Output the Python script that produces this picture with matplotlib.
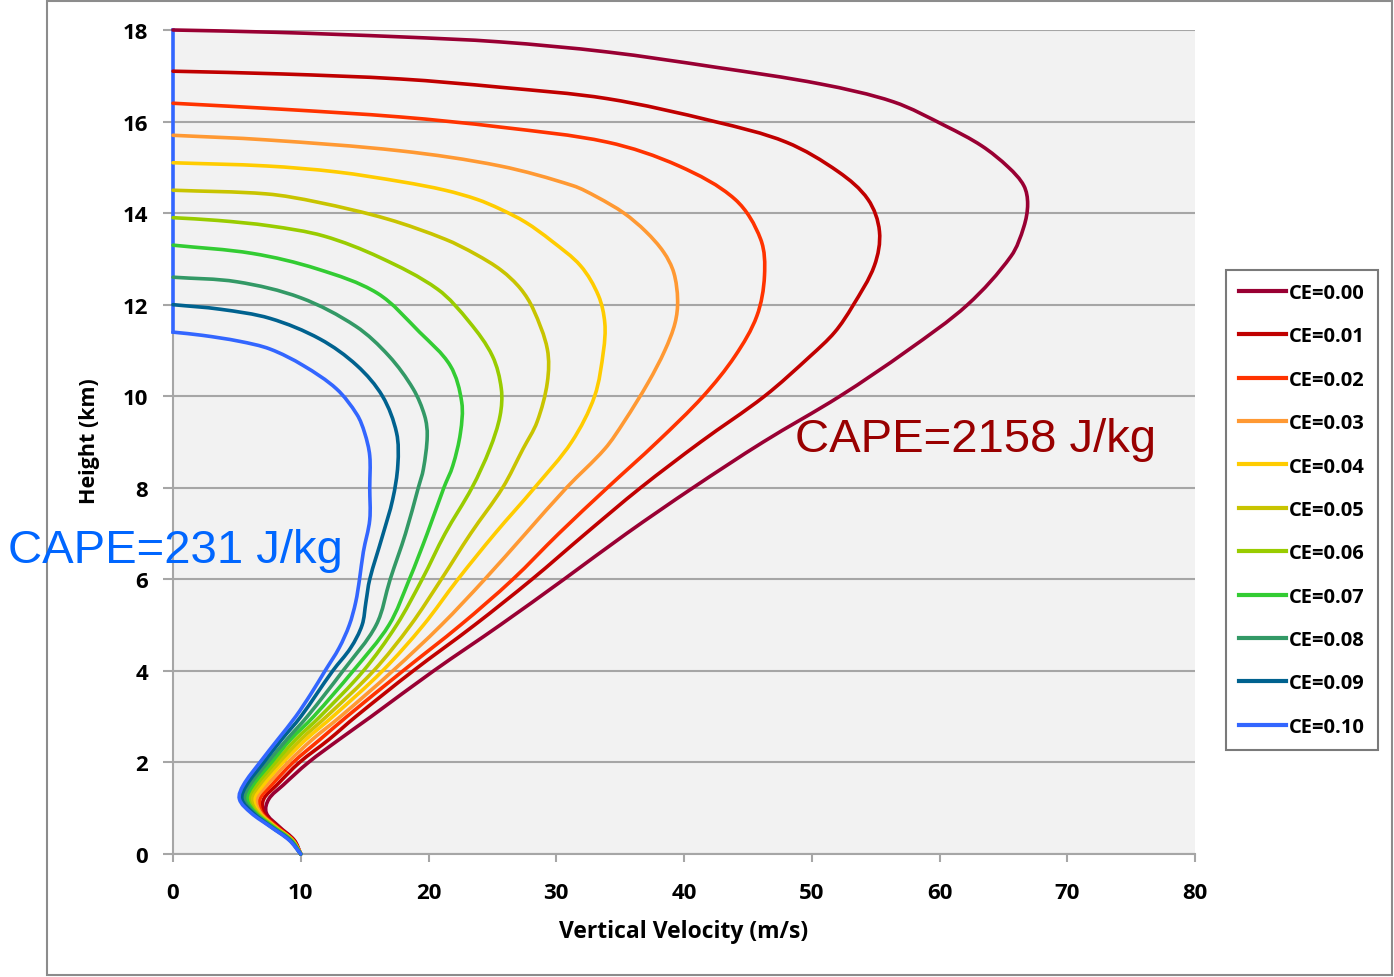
import matplotlib
matplotlib.use("Agg")
import matplotlib.pyplot as plt
import numpy as np
from matplotlib.patches import Rectangle, PathPatch
from matplotlib.path import Path

plt.rcParams["font.family"] = ["Open Sans", "DejaVu Sans"]

# Updraft vertical velocity profiles w(z) for entrainment rates CE = 0.00 ... 0.10
ce_values = [0.00, 0.01, 0.02, 0.03, 0.04, 0.05, 0.06, 0.07, 0.08, 0.09, 0.10]
ce_colors = ["#990033", "#c00000", "#ff3300", "#ff9933", "#ffcc00", "#c8c400",
             "#99cc00", "#33cc33", "#339966", "#00628f", "#3366ff"]

# height (km) / velocity (m/s) pairs for each profile
z_ce000 = [0, 0.3, 0.6, 0.9, 1.2, 1.5, 2, 2.5, 3, 4, 5, 6, 7, 8, 9, 10, 11, 12, 13.06,
           13.7, 14.2, 14.6, 15.0, 15.47, 15.9, 16.43, 16.82, 17.19, 17.52, 17.74, 17.85, 17.95, 18.0]
w_ce000 = [10.0, 9.5, 8.3, 7.3, 7.5, 8.6, 10.6, 13.0, 15.5, 20.4, 25.6, 30.6, 35.5, 40.7, 46.2, 52.2, 57.5,
           62.2, 65.6, 66.6, 66.9, 66.6, 65.4, 63.3, 60.5, 56.4, 50.7, 42.4, 34.0, 25.6, 17.8, 8.0, 0.0]

z_ce001 = [0, 0.3, 0.6, 0.9, 1.2, 1.5, 2, 2.5, 3, 4, 5, 6, 7, 8, 9, 10, 10.88, 11.4, 11.97, 12.85,
           13.6, 14.3, 14.9, 15.55, 16.0, 16.5, 16.75, 16.93, 17.04, 17.1]
w_ce001 = [10.0, 9.45, 8.2, 7.1, 7.1, 8.1, 9.9, 12.2, 14.3, 18.8, 23.6, 28.1, 32.3, 36.6, 41.3, 46.3, 49.9,
           51.8, 53.2, 54.9, 55.3, 54.4, 52.1, 48.0, 42.4, 34.0, 25.6, 17.8, 8.5, 0.0]

z_ce002 = [0, 0.3, 0.6, 0.9, 1.2, 1.5, 2, 2.5, 3, 4, 5, 6, 7, 8, 9, 10, 10.88, 11.75, 12.63,
           13.43, 14.3, 15.03, 15.55, 15.88, 16.1, 16.27, 16.4]
w_ce002 = [10.0, 9.4, 8.1, 6.95, 6.8, 7.7, 9.4, 11.5, 13.6, 18.0, 22.5, 26.6, 30.2, 34.0, 37.9, 41.5, 44.0,
           45.7, 46.3, 46.0, 44.0, 39.6, 34.0, 25.6, 17.8, 8.5, 0.0]

z_ce003 = [0, 0.3, 0.6, 0.9, 1.2, 1.5, 2, 2.5, 3, 4, 5, 6, 7, 8, 8.85, 9.44, 10.3, 11.0, 11.6,
           12.1, 12.7, 13.15, 13.6, 14.0, 14.35, 14.6, 15.03, 15.36, 15.6, 15.7]
w_ce003 = [10.0, 9.35, 8.0, 6.85, 6.55, 7.35, 9.0, 10.9, 13.1, 17.2, 21.0, 24.4, 27.6, 30.8, 33.8, 35.3,
           37.2, 38.5, 39.3, 39.5, 39.2, 38.4, 37.0, 35.3, 33.2, 31.3, 25.6, 17.8, 7.3, 0.0]

z_ce004 = [0, 0.3, 0.6, 0.9, 1.2, 1.5, 2, 2.5, 3, 4, 5, 6, 7, 8, 9, 10, 11, 11.6, 12.2, 12.85,
           13.4, 13.8, 14.09, 14.3, 14.5, 14.68, 14.9, 15.03, 15.1]
w_ce004 = [10.0, 9.35, 7.95, 6.75, 6.35, 7.05, 8.6, 10.4, 12.5, 16.4, 19.6, 22.3, 25.2, 28.3, 31.2, 33.0,
           33.7, 33.8, 33.3, 31.9, 29.6, 27.6, 25.6, 23.8, 21.3, 18.0, 12.8, 7.3, 0.0]

z_ce005 = [0, 0.3, 0.6, 0.9, 1.2, 1.5, 2, 2.5, 3, 4, 5, 6, 7, 8, 8.85, 9.44, 10.3, 11.03, 11.9,
           12.35, 12.75, 13.1, 13.43, 13.87, 14.24, 14.42, 14.5]
w_ce005 = [10.0, 9.3, 7.9, 6.65, 6.15, 6.75, 8.3, 10.0, 12.0, 15.7, 18.6, 21.0, 23.3, 25.8, 27.4, 28.5,
           29.3, 29.3, 28.2, 27.2, 25.7, 23.7, 21.3, 16.8, 11.3, 7.3, 0.0]

z_ce006 = [0, 0.3, 0.6, 0.9, 1.2, 1.5, 2, 2.5, 3, 4, 5, 6, 7, 8, 8.85, 9.57, 10.16, 10.88, 11.62,
           12.34, 13.03, 13.5, 13.72, 13.84, 13.9]
w_ce006 = [10.0, 9.3, 7.85, 6.55, 5.95, 6.5, 8.0, 9.6, 11.5, 14.9, 17.5, 19.5, 21.3, 23.4, 24.8, 25.6,
           25.7, 25.0, 23.2, 20.7, 16.2, 11.8, 7.6, 3.5, 0.0]

z_ce007 = [0, 0.3, 0.6, 0.9, 1.2, 1.5, 2, 2.5, 3, 4, 5, 6, 7, 8, 8.48, 9.2, 9.87, 10.67, 11.4,
           12.25, 12.78, 13.12, 13.3]
w_ce007 = [10.0, 9.25, 7.8, 6.45, 5.8, 6.25, 7.7, 9.2, 11.0, 14.1, 16.9, 18.5, 19.9, 21.2, 21.9, 22.5,
           22.6, 21.7, 19.3, 16.0, 11.3, 6.2, 0.0]

z_ce008 = [0, 0.3, 0.6, 0.9, 1.2, 1.5, 2, 2.5, 3, 4, 5, 6, 7, 8, 8.41, 9.13, 9.57, 10.16, 10.88,
           11.53, 12.15, 12.5, 12.6]
w_ce008 = [10.0, 9.2, 7.7, 6.35, 5.6, 6.0, 7.4, 8.9, 10.5, 13.3, 15.9, 17.0, 18.2, 19.2, 19.6, 19.9,
           19.7, 18.8, 16.9, 14.3, 10.0, 5.0, 0.0]

z_ce009 = [0, 0.3, 0.6, 0.9, 1.2, 1.5, 2, 2.5, 3, 4, 4.5, 5, 5.5, 6, 6.95, 7.75, 8.5, 9.2, 10.0,
           10.67, 11.25, 11.7, 11.9, 12.0]
w_ce009 = [10.0, 9.15, 7.65, 6.25, 5.4, 5.75, 7.1, 8.5, 10.0, 12.5, 13.9, 14.8, 15.1, 15.4, 16.4, 17.2,
           17.6, 17.5, 16.4, 14.4, 11.5, 7.6, 3.7, 0.0]

z_ce010 = [0, 0.3, 0.6, 0.9, 1.2, 1.5, 2, 2.5, 3, 3.5, 4, 4.5, 5, 5.5, 6, 6.6, 7.3, 8.0, 8.7, 9.2,
           9.6, 10.16, 10.67, 11.03, 11.2, 11.33, 11.4, 18.0]
w_ce010 = [10.0, 9.1, 7.6, 6.1, 5.2, 5.5, 6.8, 8.2, 9.6, 10.8, 11.9, 13.0, 13.8, 14.3, 14.6, 14.9, 15.4,
           15.4, 15.4, 15.0, 14.4, 12.8, 10.2, 7.6, 5.2, 2.3, 0.0, 0.0]

heights = [z_ce000, z_ce001, z_ce002, z_ce003, z_ce004, z_ce005,
           z_ce006, z_ce007, z_ce008, z_ce009, z_ce010]
speeds = [w_ce000, w_ce001, w_ce002, w_ce003, w_ce004, w_ce005,
          w_ce006, w_ce007, w_ce008, w_ce009, w_ce010]


def smooth_path(ax, xs, ys):
    """Smoothed line through the points (like a spreadsheet 'smoothed line'),
    built as cubic Bezier segments in display space so both axes count equally."""
    pts = ax.transData.transform(np.column_stack([xs, ys]))
    n = len(pts)
    tangents = np.zeros_like(pts)
    for i in range(n):
        a = pts[max(i - 1, 0)]
        b = pts[min(i + 1, n - 1)]
        d = b - a
        norm = np.hypot(*d)
        tangents[i] = d / norm if norm > 0 else 0
    verts = [pts[0]]
    codes = [Path.MOVETO]
    for i in range(n - 1):
        p0, p1 = pts[i], pts[i + 1]
        seg = np.hypot(*(p1 - p0))
        verts += [p0 + tangents[i] * seg / 3, p1 - tangents[i + 1] * seg / 3, p1]
        codes += [Path.CURVE4] * 3
    return Path(verts, codes)


W, H = 1394, 978
fig = plt.figure(figsize=(W / 100, H / 100), dpi=100)
ax = fig.add_axes([173 / W, 1 - 855 / H, (1195 - 173) / W, (855 - 31) / H])
ax.set_facecolor("#f2f2f2")
ax.set_xlim(0, 80)
ax.set_ylim(0, 18)

# chart frame around everything except the left overhang
fig.patches.append(Rectangle((47 / W, 2 / H), (1392 - 47) / W, (976 - 2) / H,
                             transform=fig.transFigure, fill=False,
                             edgecolor="#8c8c8c", linewidth=1.5))

handles = []
for ce, color, z, w in zip(ce_values, ce_colors, heights, speeds):
    if ce == 0.10:
        # top of the weakest profile: flat w=0 column drawn straight up the axis
        path = smooth_path(ax, w[:-1], z[:-1])
        ax.plot(w[-2:], z[-2:], color=color, linewidth=2.6, clip_on=False, zorder=3)
    else:
        path = smooth_path(ax, w, z)
    patch = PathPatch(path, transform=None, facecolor="none", edgecolor=color,
                      linewidth=2.6, clip_on=False, zorder=3, capstyle="round")
    fig.patches.append(patch)
    handles.append(plt.Line2D([], [], color=color, linewidth=3, label=f"CE={ce:.2f}"))

grid_color = "#a6a6a6"
ax.set_xticks(range(0, 81, 10))
ax.set_yticks(range(0, 19, 2))
ax.yaxis.grid(True, color=grid_color, linewidth=1.5)
ax.set_axisbelow(True)
for side in ("top", "right"):
    ax.spines[side].set_visible(False)
for side in ("left", "bottom"):
    ax.spines[side].set_color(grid_color)
    ax.spines[side].set_linewidth(1.5)
ax.tick_params(axis="y", direction="out", length=7, width=1.5, color=grid_color,
               labelsize=16, pad=11)
ax.tick_params(axis="x", direction="out", length=6, width=1.5, color=grid_color,
               labelsize=16, pad=14)
for lab in ax.get_xticklabels() + ax.get_yticklabels():
    lab.set_fontweight("bold")

fig.text(684 / W, 1 - 932 / H, "Vertical Velocity (m/s)", ha="center", va="center",
         fontsize=16.5, fontweight="bold")
fig.text(89 / W, 1 - 441 / H, "Height (km)", ha="center", va="center",
         rotation=90, fontsize=15.5, fontweight="bold")

ax.text(48.7, 8.8, "CAPE=2158 J/kg", color="#990000", fontsize=34,
        family=["Liberation Sans", "DejaVu Sans"], ha="left", va="baseline", zorder=4)
fig.text(8 / W, 1 - 563 / H, "CAPE=231 J/kg", color="#0066ff", fontsize=34,
         family=["Liberation Sans", "DejaVu Sans"], ha="left", va="baseline")

leg = ax.legend(handles=handles, loc="upper left", bbox_to_anchor=(1226 / W, 1 - 271 / H),
                bbox_transform=fig.transFigure, borderaxespad=0,
                prop={"weight": "bold", "size": 14.5}, frameon=True, fancybox=False,
                handlelength=2.35, handletextpad=0.12, labelspacing=1.16, borderpad=0.65)
leg.get_frame().set_edgecolor("#595959")
leg.get_frame().set_linewidth(1.5)

fig.savefig("out.png", dpi=100)
